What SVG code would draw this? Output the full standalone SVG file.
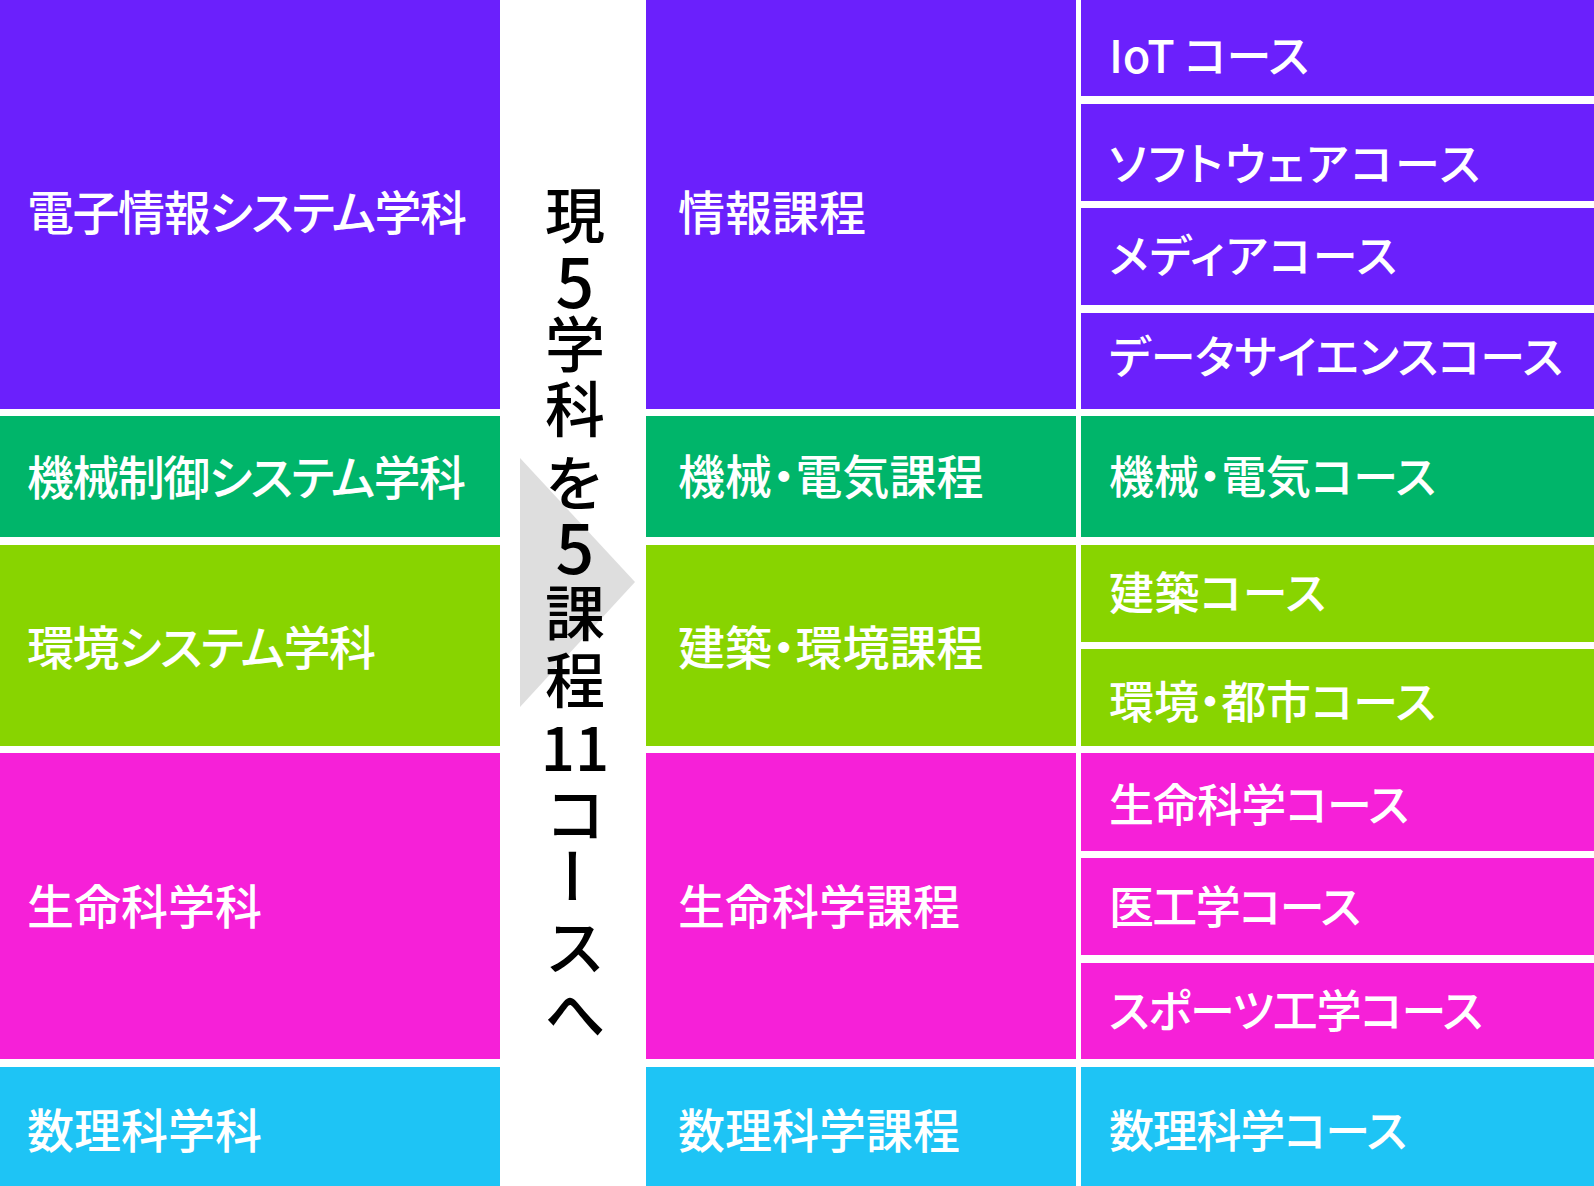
<svg xmlns="http://www.w3.org/2000/svg" width="1594" height="1186" viewBox="0 0 1594 1186">
<style>
.t{font-family:"Noto Sans CJK JP","Noto Sans",sans-serif;font-size:47px;font-weight:500;fill:#ffffff;dominant-baseline:central;font-feature-settings:"palt" 1;}
.r{font-size:45px;}
.v{font-family:"Noto Sans CJK JP","Noto Sans",sans-serif;font-size:60px;font-weight:500;fill:#000000;dominant-baseline:central;text-anchor:middle;}
.d{font-size:68px;}
.p{fill:#6b20fc}
.g{fill:#00b56a}
.l{fill:#88d400}
.k{fill:#f620d8}
.c{fill:#1ec4f5}
</style>
<rect x="0" y="0" width="1594" height="1186" fill="#ffffff"/>
<g id="connectors">
<polygon points="520,458 635,582 520,707" fill="#dedede"/>
</g>
<g id="dept-denshi"><rect class="p" x="0" y="0" width="500" height="409"/><text class="t" x="27" y="209" textLength="440" lengthAdjust="spacing">電子情報システム学科</text></g>
<g id="dept-kikai"><rect class="g" x="0" y="416" width="500" height="121"/><text class="t" x="27" y="474" textLength="439" lengthAdjust="spacing">機械制御システム学科</text></g>
<g id="dept-kankyo"><rect class="l" x="0" y="545" width="500" height="201"/><text class="t" x="27" y="644" textLength="349" lengthAdjust="spacing">環境システム学科</text></g>
<g id="dept-seimei"><rect class="k" x="0" y="753" width="500" height="306"/><text class="t" x="27" y="903">生命科学科</text></g>
<g id="dept-suri"><rect class="c" x="0" y="1067" width="500" height="119"/><text class="t" x="27" y="1127">数理科学科</text></g>
<g id="label-center">
<text class="v">
<tspan x="575" y="211">現</tspan><tspan class="d" x="575" y="278">5</tspan><tspan x="575" y="340">学</tspan><tspan x="575" y="405">科</tspan><tspan x="575" y="479">を</tspan><tspan class="d" x="575" y="544">5</tspan><tspan x="575" y="609">課</tspan><tspan x="575" y="676">程</tspan><tspan x="575" y="744">11</tspan><tspan x="575" y="810">コ</tspan>
</text>
<text class="v" transform="rotate(90 575 876)" x="575" y="876">ー</text>
<text class="v"><tspan x="575" y="943">ス</tspan><tspan x="575" y="1010">へ</tspan></text>
</g>
<g id="prog-joho"><rect class="p" x="646" y="0" width="430" height="409"/><text class="t" x="678" y="209">情報課程</text></g>
<g id="prog-kikai"><rect class="g" x="646" y="416" width="430" height="121"/><text class="t" x="678" y="473">機械・電気課程</text></g>
<g id="prog-kenchiku"><rect class="l" x="646" y="545" width="430" height="201"/><text class="t" x="678" y="644">建築・環境課程</text></g>
<g id="prog-seimei"><rect class="k" x="646" y="753" width="430" height="306"/><text class="t" x="678" y="903">生命科学課程</text></g>
<g id="prog-suri"><rect class="c" x="646" y="1067" width="430" height="119"/><text class="t" x="678" y="1127">数理科学課程</text></g>
<g id="course-iot"><rect class="p" x="1081" y="0" width="513" height="96"/><text class="t r" x="1109" y="53" textLength="200" lengthAdjust="spacing">IoT コース</text></g>
<g id="course-software"><rect class="p" x="1081" y="104" width="513" height="97"/><text class="t r" x="1109" y="161" textLength="371" lengthAdjust="spacing">ソフトウェアコース</text></g>
<g id="course-media"><rect class="p" x="1081" y="208" width="513" height="97"/><text class="t r" x="1109" y="253" textLength="288" lengthAdjust="spacing">メディアコース</text></g>
<g id="course-data"><rect class="p" x="1081" y="313" width="513" height="96"/><text class="t r" x="1109" y="354" textLength="454" lengthAdjust="spacing">データサイエンスコース</text></g>
<g id="course-kikai"><rect class="g" x="1081" y="416" width="513" height="121"/><text class="t r" x="1109" y="474" textLength="327" lengthAdjust="spacing">機械・電気コース</text></g>
<g id="course-kenchiku"><rect class="l" x="1081" y="545" width="513" height="97"/><text class="t r" x="1109" y="590" textLength="217" lengthAdjust="spacing">建築コース</text></g>
<g id="course-kankyo"><rect class="l" x="1081" y="649" width="513" height="97"/><text class="t r" x="1109" y="699" textLength="327" lengthAdjust="spacing">環境・都市コース</text></g>
<g id="course-seimei"><rect class="k" x="1081" y="753" width="513" height="98"/><text class="t r" x="1109" y="802" textLength="300" lengthAdjust="spacing">生命科学コース</text></g>
<g id="course-ikou"><rect class="k" x="1081" y="858" width="513" height="97"/><text class="t r" x="1109" y="904" textLength="252" lengthAdjust="spacing">医工学コース</text></g>
<g id="course-sports"><rect class="k" x="1081" y="963" width="513" height="96"/><text class="t r" x="1109" y="1008" textLength="374" lengthAdjust="spacing">スポーツ工学コース</text></g>
<g id="course-suri"><rect class="c" x="1081" y="1067" width="513" height="119"/><text class="t r" x="1109" y="1128" textLength="298" lengthAdjust="spacing">数理科学コース</text></g>
</svg>
